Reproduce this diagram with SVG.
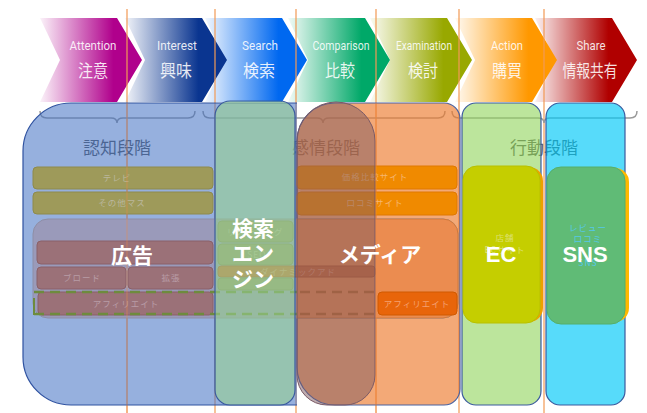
<svg xmlns="http://www.w3.org/2000/svg" width="647" height="413" viewBox="0 0 647 413">
<defs>
<linearGradient id="g1" x1="0" y1="0" x2="1" y2="0"><stop offset="0" stop-color="#B0008C" stop-opacity="0.05"/><stop offset="0.72" stop-color="#B0008C"/></linearGradient>
<linearGradient id="g2" x1="0" y1="0" x2="1" y2="0"><stop offset="0" stop-color="#0A3590" stop-opacity="0.05"/><stop offset="0.72" stop-color="#0A3590"/></linearGradient>
<linearGradient id="g3" x1="0" y1="0" x2="1" y2="0"><stop offset="0" stop-color="#0068F0" stop-opacity="0.05"/><stop offset="0.72" stop-color="#0068F0"/></linearGradient>
<linearGradient id="g4" x1="0" y1="0" x2="1" y2="0"><stop offset="0" stop-color="#00A868" stop-opacity="0.05"/><stop offset="0.72" stop-color="#00A868"/></linearGradient>
<linearGradient id="g5" x1="0" y1="0" x2="1" y2="0"><stop offset="0" stop-color="#98A800" stop-opacity="0.05"/><stop offset="0.72" stop-color="#98A800"/></linearGradient>
<linearGradient id="g6" x1="0" y1="0" x2="1" y2="0"><stop offset="0" stop-color="#FF9800" stop-opacity="0.05"/><stop offset="0.72" stop-color="#FF9800"/></linearGradient>
<linearGradient id="g7" x1="0" y1="0" x2="1" y2="0"><stop offset="0" stop-color="#B00000" stop-opacity="0.05"/><stop offset="0.72" stop-color="#B00000"/></linearGradient>
</defs>
<style>
.en{font-family:Roboto,"Liberation Sans",sans-serif;font-size:13px;fill:#fff;fill-opacity:0.88;text-anchor:middle}
.jp{font-family:"Noto Sans CJK JP",sans-serif;font-size:17px;fill:#fff;fill-opacity:0.88;text-anchor:middle}
.vl{stroke:#F29A55;stroke-width:1.2;fill:none}
.brace{fill:none;stroke:#9A9A9A;stroke-width:1.5}
.stage{font-family:"Noto Sans CJK JP",sans-serif;font-size:17px;fill:#555;text-anchor:middle}
.sm{font-family:"Noto Sans CJK JP",sans-serif;font-size:8.5px;text-anchor:middle;letter-spacing:1px}
.big{font-family:"Noto Sans CJK JP",sans-serif;font-size:21px;fill:#fff;text-anchor:middle;font-weight:700}
.bigl{font-family:"Liberation Sans",Arial,sans-serif;font-size:22px;fill:#fff;text-anchor:middle;font-weight:700}
.olive{fill:#9E9A5A;stroke:#8E8A4C;stroke-width:1}
.mauve{fill:#9B7178;stroke:#8A6068;stroke-width:1}
.fg{fill:#9A9A70;stroke:#8A8A60;stroke-width:1}
.ob{fill:#F08A00;stroke:#E07800;stroke-width:1}
.box{stroke:#3A5A9E;stroke-width:1.2}
</style>

<g id="chevrons">
<g id="ch7"><polygon points="535,18 612,18 637,60 612,102 535,102 555,60" fill="url(#g7)"/><text class="en" x="591" y="50" textLength="29" lengthAdjust="spacingAndGlyphs">Share</text><text class="jp" x="590" y="77" textLength="55" lengthAdjust="spacingAndGlyphs">情報共有</text></g>
<g id="ch6"><polygon points="455,18 532,18 557,60 532,102 455,102 475,60" fill="url(#g6)"/><text class="en" x="507" y="50" textLength="32" lengthAdjust="spacingAndGlyphs">Action</text><text class="jp" x="507" y="77" textLength="30" lengthAdjust="spacingAndGlyphs">購買</text></g>
<g id="ch5"><polygon points="370,18 447,18 472,60 447,102 370,102 390,60" fill="url(#g5)"/><text class="en" x="424" y="50" textLength="56" lengthAdjust="spacingAndGlyphs">Examination</text><text class="jp" x="423" y="77" textLength="30" lengthAdjust="spacingAndGlyphs">検討</text></g>
<g id="ch4"><polygon points="288,18 365,18 390,60 365,102 288,102 308,60" fill="url(#g4)"/><text class="en" x="341" y="50" textLength="57" lengthAdjust="spacingAndGlyphs">Comparison</text><text class="jp" x="340" y="77" textLength="30" lengthAdjust="spacingAndGlyphs">比較</text></g>
<g id="ch3"><polygon points="205,18 282,18 307,60 282,102 205,102 225,60" fill="url(#g3)"/><text class="en" x="260" y="50" textLength="36" lengthAdjust="spacingAndGlyphs">Search</text><text class="jp" x="259" y="77" textLength="32" lengthAdjust="spacingAndGlyphs">検索</text></g>
<g id="ch2"><polygon points="125,18 202,18 227,60 202,102 125,102 145,60" fill="url(#g2)"/><text class="en" x="177" y="50" textLength="40" lengthAdjust="spacingAndGlyphs">Interest</text><text class="jp" x="176" y="77" textLength="32" lengthAdjust="spacingAndGlyphs">興味</text></g>
<g id="ch1"><polygon points="40,18 117,18 142,60 117,102 40,102 60,60" fill="url(#g1)"/><text class="en" x="93" y="50" textLength="47" lengthAdjust="spacingAndGlyphs">Attention</text><text class="jp" x="93" y="77" textLength="30" lengthAdjust="spacingAndGlyphs">注意</text></g>
</g>

<g id="connectors">
<path class="vl" d="M127,9V413M215,9V413M296,9V413M376,9V413M459,9V413M544,9V413"/>
</g>

<g id="stages">
<path class="brace" d="M40,111 Q40,118 47,118 H111 Q117,118 117,123 Q117,118 123,118 H188 Q195,118 195,111"/>
<path class="brace" d="M203,111 Q203,118 210,118 H317 Q323,118 323,123 Q323,118 329,118 H438 Q445,118 445,111"/>
<path class="brace" d="M452,111 Q452,118 459,118 H538 Q544,118 544,123 Q544,118 550,118 H630 Q637,118 637,111"/>
<text class="stage" x="117" y="154">認知段階</text>
<text class="stage" x="326" y="154">感情段階</text>
<text class="stage" x="544" y="154">行動段階</text>
</g>

<g id="cognition">
<path d="M297,103 H71 A48 48 0 0 0 23 151 V357 A48 48 0 0 0 71 405 H297 Z" fill="#4472C4" fill-opacity="0.56"/>
<path d="M297,103 H71 A48 48 0 0 0 23 151 V357 A48 48 0 0 0 71 405 H297" fill="none" stroke="#2F52A0" stroke-width="1.2"/>
</g>
<g id="emotion">
<path d="M335,103 H444 A16 16 0 0 1 460 119 V389 A16 16 0 0 1 444 405 H335 A38 38 0 0 1 297 367 V141 A38 38 0 0 1 335 103 Z" fill="#ED7D31" fill-opacity="0.66" stroke="#4A62A0" stroke-width="1.2"/>
</g>

<g id="media-items">
<rect class="olive" x="33" y="167" width="180" height="22" rx="4"/>
<text class="sm" x="117" y="181" fill="#BAB79C">テレビ</text>
<rect class="olive" x="33" y="192" width="180" height="22" rx="4"/>
<text class="sm" x="122" y="206" fill="#BAB79C">その他マス</text>
<rect class="ob" x="297" y="166" width="160" height="23" rx="4"/>
<text class="sm" x="375" y="180" fill="#F6B670">価格比較サイト</text>
<rect class="ob" x="297" y="192" width="160" height="23" rx="4"/>
<text class="sm" x="375" y="206" fill="#F6B670">口コミサイト</text>

<rect x="33" y="219" width="425" height="99" rx="15" fill="#9A9ABA" stroke="#8E8EA6" stroke-width="1"/>
<path d="M297,219 H443 A15 15 0 0 1 458 234 V303 A15 15 0 0 1 443 318 H297 Z" fill="#EB8C50" stroke="#D27A3A" stroke-width="1"/>

<rect class="mauve" x="37" y="241" width="176" height="23" rx="4"/>
<rect class="mauve" x="37" y="267" width="89" height="22" rx="4"/>
<text class="sm" x="82" y="281" fill="#B89CA6">ブロード</text>
<rect class="mauve" x="128" y="267" width="85" height="22" rx="4"/>
<text class="sm" x="171" y="281" fill="#B89CA6">拡張</text>
<rect class="mauve" x="38" y="292" width="175" height="23" rx="4"/>
<text class="sm" x="126" y="307" fill="#B89CA6">アフィリエイト</text>

<rect class="fg" x="218" y="221" width="75" height="21" rx="4"/>
<text class="sm" x="255" y="235" fill="#B8B898">リスティング</text>
<rect class="fg" x="218" y="244" width="75" height="21" rx="4"/>
<text class="sm" x="257" y="258" fill="#B8B898">SEO</text>
<rect x="218" y="266" width="157" height="11" rx="3" fill="#CC6A36" stroke="#B85A2A" stroke-width="1"/>
<text class="sm" x="298" y="275" font-size="7.5px" fill="#E0946E">ダイナミックアド</text>
<rect class="fg" x="218" y="278" width="75" height="12" rx="3"/>

<rect x="378" y="292" width="79" height="23" rx="4" fill="#E8650A" stroke="#D05A00" stroke-width="1"/>
<text class="sm" x="417" y="307" fill="#F4A070">アフィリエイト</text>

<path d="M34,292 H297 M34,314 H297" stroke="#6E8B3D" stroke-width="2.5" stroke-dasharray="10 6" fill="none"/>
<path d="M34,298 V315" stroke="#6E8B3D" stroke-width="2" fill="none"/>
<path d="M300,292 H378 M300,314 H378" stroke="#BE6A2A" stroke-width="2.5" stroke-dasharray="10 6" fill="none"/>
</g>

<g id="search-engine">
<rect class="box" x="215" y="101" width="80" height="304" rx="15" fill="#96D191" fill-opacity="0.6"/>
</g>
<g id="media-arch">
<path d="M297,141 A39 39 0 0 1 375 141 V375 A30 30 0 0 1 345 405 H327 A30 30 0 0 1 297 375 Z" fill="#80595F" fill-opacity="0.5" stroke="#7A5A66" stroke-width="1"/>
</g>

<g id="ec">
<rect class="box" x="462" y="103" width="79" height="302" rx="14" fill="#8FD35A" fill-opacity="0.6"/>
<rect x="466" y="167" width="77" height="155" rx="14" fill="#F0A000"/>
<rect x="463" y="166" width="77" height="157" rx="14" fill="#C5CE00" stroke="#B8C000" stroke-width="1"/>
<text class="sm" x="505" y="241" fill="#DCE070">店舗</text>
<text class="sm" x="505" y="253" fill="#DCE070">ECサイト</text>
</g>
<g id="sns">
<rect class="box" x="546" y="103" width="79" height="302" rx="14" fill="#00C8F8" fill-opacity="0.66"/>
<rect x="552" y="168" width="77" height="154" rx="14" fill="#FFB800"/>
<rect x="547" y="167" width="78" height="157" rx="14" fill="#60BB76" stroke="#55AE6A" stroke-width="1"/>
<text class="sm" x="588" y="231" fill="#55C8E8">レビュー</text>
<text class="sm" x="588" y="242" fill="#55C8E8">口コミ</text>
<text class="sm" x="588" y="266" fill="#55C8E8">SNS</text>
</g>

<g id="guide-overlay">
<path d="M127,103V413M376,103V413" stroke="#F08C46" stroke-width="1.2" stroke-opacity="0.4" fill="none"/>
</g>

<g id="labels">
<text class="big" x="132" y="263" font-size="22px">広告</text>
<text class="big" x="253" y="236">検索</text>
<text class="big" x="253" y="261">エン</text>
<text class="big" x="253" y="287">ジン</text>
<text class="big" x="380" y="262">メディア</text>
<text class="bigl" x="501" y="262">EC</text>
<text class="bigl" x="585" y="262">SNS</text>
</g>
</svg>
